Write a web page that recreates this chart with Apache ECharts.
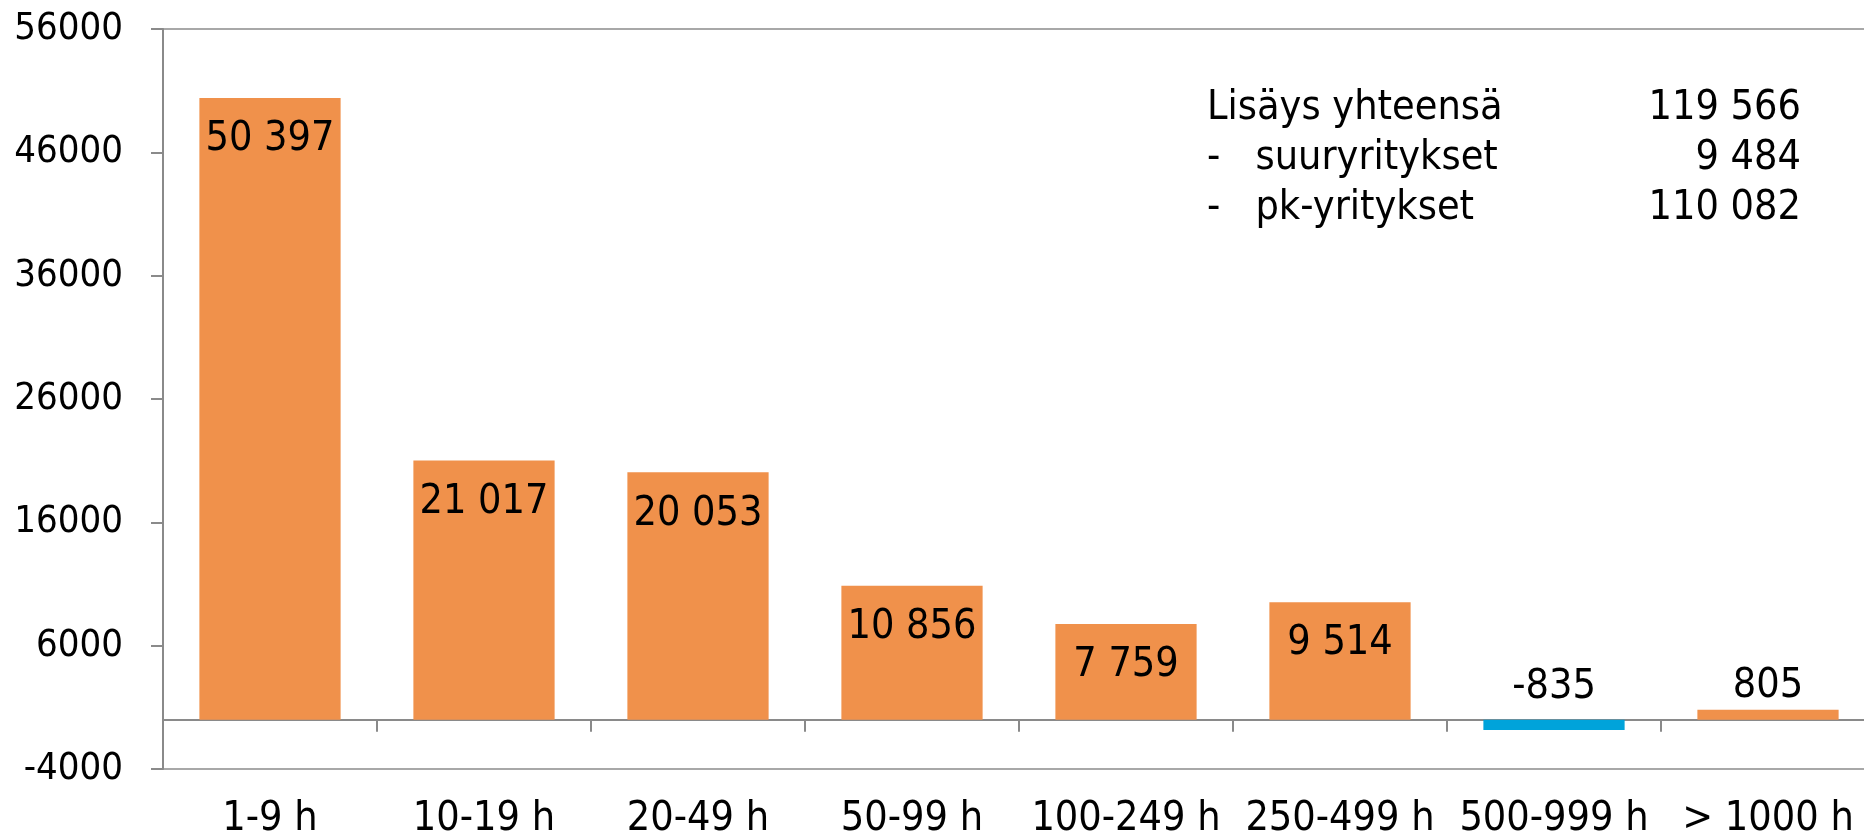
<!DOCTYPE html>
<html>
<head>
<meta charset="utf-8">
<script src="https://cdn.jsdelivr.net/npm/echarts@6/dist/echarts.min.js"></script>
<style>
  html, body { margin: 0; padding: 0; background: #fff; }
  #main { width: 1864px; height: 840px; }
</style>
</head>
<body>
<div id="main"></div>
<script>
// data
var categories = ['1-9 h', '10-19 h', '20-49 h', '50-99 h', '100-249 h', '250-499 h', '500-999 h', '> 1000 h'];
var values = [50397, 21017, 20053, 10856, 7759, 9514, -835, 805];
var yTicks = [-4000, 56000, 10000]; // min, max, step

var boxLabels = ['Lisäys yhteensä', '-   suuryritykset', '-   pk-yritykset'];
var boxValues = ['119 566', '9 484', '110 082'];

var FONT = '"DejaVu Sans Condensed", "DejaVu Sans", sans-serif';
var ORANGE = '#f0914b';
var BLUE = '#00a3da';

function fmt(v) {
    var s = String(Math.abs(v)).replace(/\B(?=(\d{3})+(?!\d))/g, ' ');
    return (v < 0 ? '-' : '') + s;
}

var chart = echarts.init(document.getElementById('main'));

var barData = values.map(function (v) {
    var small = Math.abs(v) < 3000;
    return {
        value: v,
        itemStyle: { color: v < 0 ? BLUE : ORANGE },
        label: small
            ? { position: 'top', distance: v < 0 ? 12 : 3 }
            : { position: 'insideTop', distance: 21 }
    };
});

var graphics = [];
boxLabels.forEach(function (t, i) {
    graphics.push({
        type: 'text', left: 1207, top: 88 + i * 50,
        style: { text: t, font: '41px ' + FONT, fill: '#000' }
    });
    graphics.push({
        type: 'text', right: 63, top: 88 + i * 50,
        style: { text: boxValues[i], font: '41px ' + FONT, fill: '#000', align: 'right' }
    });
});

var option = {
    animation: false,
    textStyle: { fontFamily: FONT },
    grid: {
        left: 163, top: 29, width: 1712, height: 740,
        outerBoundsMode: 'none',
        containLabel: false,
        show: true, borderColor: '#a8a8a8', borderWidth: 2, backgroundColor: 'transparent'
    },
    xAxis: {
        type: 'category',
        data: categories,
        axisLine: { onZero: true, lineStyle: { color: '#8a8a8a', width: 2 } },
        axisTick: { show: true, length: 12, lineStyle: { color: '#8a8a8a', width: 2 } },
        axisLabel: { color: '#000', fontSize: 41, fontFamily: FONT, margin: 30, interval: 0 }
    },
    yAxis: {
        type: 'value',
        min: yTicks[0], max: yTicks[1], interval: yTicks[2],
        axisLine: { show: true, lineStyle: { color: '#8a8a8a', width: 2 } },
        axisTick: { show: true, length: 12, lineStyle: { color: '#8a8a8a', width: 2 } },
        axisLabel: {
            color: '#000', fontSize: 38, fontFamily: FONT, margin: 40,
            formatter: function (v) { return String(v); }
        },
        splitLine: { show: false }
    },
    series: [{
        type: 'bar',
        data: barData,
        barWidth: '66%',
        label: {
            show: true,
            color: '#000',
            fontSize: 41,
            fontFamily: FONT,
            formatter: function (p) { return fmt(p.value); }
        }
    }],
    graphic: graphics
};

chart.setOption(option);
</script>
</body>
</html>
